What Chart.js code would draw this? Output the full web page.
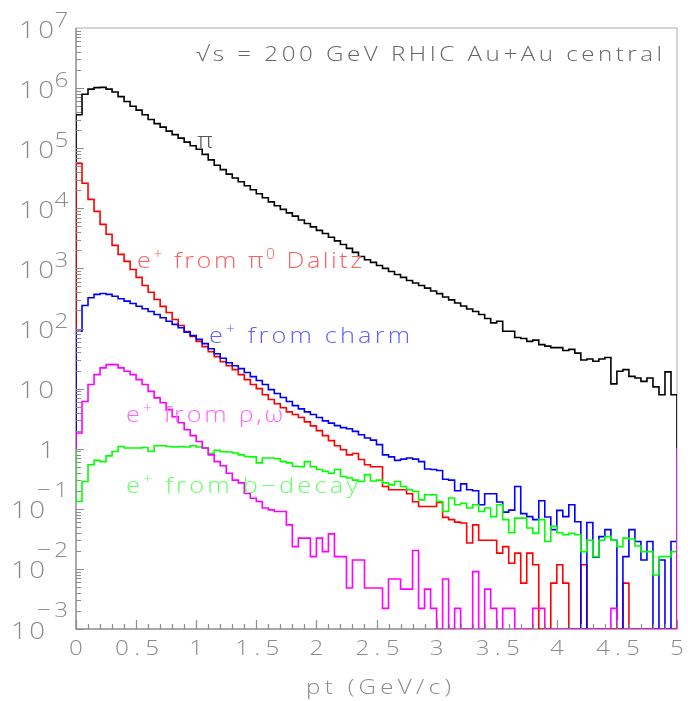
<!DOCTYPE html>
<html>
<head>
<meta charset="utf-8">
<script src="https://cdn.jsdelivr.net/npm/chart.js@4.4.1/dist/chart.umd.min.js"></script>
<style>
  html, body { margin: 0; padding: 0; background: #fff; }
  #c { display: block; }
</style>
</head>
<body>
<canvas id="c" width="688" height="701"></canvas>
<script>
// pt binning: 100 bins of 0.05 GeV/c from 0 to 5
var ptMin = 0, ptMax = 5, binW = 0.05;
var yMin = 1e-3, yMax = 1e7;
var xTicks = [0, 0.5, 1, 1.5, 2, 2.5, 3, 3.5, 4, 4.5, 5];
var yDecades = [-3, -2, -1, 0, 1, 2, 3, 4, 5, 6, 7];

// counts per bin (0 = empty bin)
var pion = [3.6e5, 7.9e5, 9.6e5, 1.02e6, 1.03e6, 9.6e5, 8.6e5, 7.2e5, 6.0e5, 5.0e5,
  4.3e5, 3.6e5, 3.0e5, 2.56e5, 2.24e5, 1.92e5, 1.68e5, 1.47e5, 1.26e5, 1.10e5,
  9.6e4, 7.9e4, 6.4e4, 5.2e4, 4.4e4, 3.7e4, 3.2e4, 2.77e4, 2.37e4, 2.03e4,
  1.75e4, 1.50e4, 1.28e4, 1.10e4, 9.6e3, 8.4e3, 7.4e3, 6.4e3, 5.6e3, 4.9e3,
  4.3e3, 3.8e3, 3.3e3, 2.87e3, 2.5e3, 2.15e3, 1.85e3, 1.58e3, 1.39e3, 1.26e3,
  1120, 1000, 890, 790, 710, 630, 570, 520, 470, 420,
  380, 335, 300, 266, 237, 211, 192, 171, 147, 124,
  132, 90, 90, 71, 68, 61, 64, 54, 51, 48,
  48, 43, 45, 39, 30, 31, 28.5, 31, 33, 12,
  19.4, 20.7, 16, 15, 13.2, 15, 10.7, 7.9, 19, 7.9];

var dalitz = [56000, 26100, 14100, 8900, 5400, 3690, 2420, 1710, 1310, 960,
  710, 520, 400, 304, 233, 185, 141, 112, 89, 74,
  61, 50, 41, 34, 28, 24, 20.7, 17.1, 14.1, 11.7,
  10.0, 7.9, 6.6, 5.6, 4.8, 4.1, 3.7, 3.3, 2.8, 2.4,
  2.0, 1.65, 1.36, 1.12, 0.96, 0.79, 0.83, 0.66, 0.54, 0.50,
  0.50, 0.235, 0.207, 0.207, 0.207, 0.178, 0.131, 0.109, 0.109, 0.109,
  0.128, 0.072, 0.066, 0.060, 0.058, 0.027, 0.054, 0.030, 0.030, 0.030,
  0.0183, 0.0235, 0.0124, 0.0183, 0.0058, 0.0183, 0.0117, 0, 0, 0.0058,
  0.0117, 0.0058, 0, 0, 0.0117, 0, 0, 0, 0, 0,
  0, 0.0058, 0, 0, 0, 0, 0, 0, 0, 0];

var charm = [90, 242, 325, 369, 383, 369, 345, 313, 285, 261,
  235, 213, 192, 171, 151, 132, 117, 103, 87, 76,
  66, 56, 46, 38, 32, 27, 24, 21.5, 18.5, 15.8,
  13.6, 11.7, 9.6, 8.3, 7.1, 6.1, 5.2, 4.6, 4.1, 3.7,
  3.3, 2.9, 2.66, 2.42, 2.24, 2.15, 1.94, 1.71, 1.51, 1.39,
  1.17, 0.79, 0.73, 0.64, 0.67, 0.70, 0.67, 0.61, 0.46, 0.45,
  0.435, 0.31, 0.30, 0.20, 0.26, 0.207, 0.20, 0.117, 0.178, 0.178,
  0.13, 0.088, 0.095, 0.235, 0.083, 0.074, 0.066, 0.136, 0.073, 0.045,
  0.094, 0.074, 0.117, 0.061, 0, 0.059, 0.0157, 0.0345, 0.045, 0.030,
  0, 0.016, 0.045, 0.0285, 0.0141, 0.0285, 0, 0.0141, 0, 0.0285];

var rhoOmega = [1.83, 6.1, 11.7, 17.1, 22.1, 25.1, 25.1, 22.1, 19.4, 17.1,
  14.1, 11.7, 9.0, 7.0, 5.8, 4.5, 3.4, 2.7, 2.07, 1.65,
  1.32, 1.03, 0.79, 0.61, 0.52, 0.39, 0.30, 0.27, 0.18, 0.15,
  0.132, 0.103, 0.096, 0.090, 0.090, 0.054, 0.0235, 0.0325, 0.0325, 0.016,
  0.0325, 0.0194, 0.0383, 0.016, 0.016, 0.0048, 0.0141, 0.0141, 0.0048, 0.0048,
  0.0048, 0.0022, 0.0068, 0.0068, 0.0046, 0.0046, 0.0202, 0.0022, 0.0046, 0.0022,
  0, 0.0068, 0, 0.0022, 0, 0, 0.009, 0, 0.0046, 0.0022,
  0, 0.0022, 0.0022, 0, 0, 0, 0.0022, 0.0022, 0, 0,
  0, 0, 0, 0, 0, 0, 0, 0, 0, 0.0022,
  0, 0, 0, 0, 0, 0, 0, 0, 0, 0];

var bDecay = [0.132, 0.285, 0.54, 0.64, 0.61, 0.76, 0.90, 1.09, 1.03, 1.03,
  1.03, 1.05, 0.90, 1.12, 1.12, 1.09, 1.07, 1.09, 1.07, 1.12,
  1.07, 1.03, 0.83, 0.94, 0.89, 0.88, 0.85, 0.79, 0.74, 0.73,
  0.58, 0.70, 0.70, 0.68, 0.61, 0.58, 0.51, 0.50, 0.61, 0.50,
  0.45, 0.42, 0.39, 0.45, 0.345, 0.325, 0.30, 0.285, 0.37, 0.29,
  0.30, 0.27, 0.25, 0.285, 0.235, 0.207, 0.194, 0.141, 0.171, 0.171,
  0.132, 0.090, 0.151, 0.117, 0.124, 0.103, 0.117, 0.090, 0.103, 0.074,
  0.117, 0.066, 0.040, 0.070, 0.070, 0.048, 0.039, 0.066, 0.0285, 0.051,
  0.040, 0.037, 0.039, 0.037, 0.0194, 0.030, 0.016, 0.030, 0.0345, 0.030,
  0.0235, 0.0325, 0.0315, 0.024, 0.0194, 0.0194, 0.0079, 0.016, 0.016, 0.0194];

var FONT = "'Open Sans', 'DejaVu Sans', sans-serif";
var STRETCH = 1.15; // root's vector font is wider than open sans

// histogram outline: starts/ends at baseline 1 like ROOT log plots, empty bins sit on the frame bottom
function histPoints(vals) {
  var pts = [{ x: ptMin, y: 1 }];
  for (var i = 0; i < vals.length; i++) {
    pts.push({ x: ptMin + i * binW, y: vals[i] > 0 ? vals[i] : yMin });
  }
  pts.push({ x: ptMax, y: 1 });
  return pts;
}

function histSet(vals, color, order) {
  return {
    data: histPoints(vals),
    borderColor: color,
    borderWidth: 1.6,
    stepped: 'before', // in chart.js this one goes horizontal first
    pointRadius: 0,
    fill: false,
    order: order
  };
}

// draw text char by char, spread so it covers x0..x1
function layoutChars(ctx, parts, size) {
  var out = [];
  parts.forEach(function (p) {
    var s = p[1] ? size * 0.62 : size;
    var f = '300 ' + s + 'px ' + FONT;
    ctx.font = f;
    for (var ch of p[0]) {
      out.push({ ch: ch, font: f, w: ctx.measureText(ch).width * STRETCH, dy: p[1] ? -size * 0.42 : 0 });
    }
  });
  return out;
}

function drawSpan(ctx, parts, x0, x1, base, size, color) {
  var cs = layoutChars(ctx, parts, size);
  var total = 0;
  cs.forEach(function (c) { total += c.w; });
  var gap = cs.length > 1 ? (x1 - x0 - total) / (cs.length - 1) : 0;
  var x = cs.length > 1 ? x0 : (x0 + x1 - total) / 2;
  ctx.fillStyle = color;
  ctx.textAlign = 'left';
  ctx.textBaseline = 'alphabetic';
  cs.forEach(function (c) {
    ctx.save();
    ctx.font = c.font;
    ctx.translate(x, base + c.dy);
    ctx.scale(STRETCH, 1);
    ctx.fillText(c.ch, 0, 0);
    ctx.restore();
    x += c.w + gap;
  });
}

var rootAxes = {
  id: 'rootAxes',
  beforeDatasetsDraw: function (chart) {
    var ctx = chart.ctx, a = chart.chartArea;
    ctx.save();
    ctx.lineWidth = 1.5;
    ctx.strokeStyle = '#c8c8c8';
    ctx.beginPath();
    ctx.moveTo(a.left, a.top); ctx.lineTo(a.right, a.top); ctx.lineTo(a.right, a.bottom);
    ctx.stroke();
    ctx.strokeStyle = '#8c8c8c';
    ctx.beginPath();
    ctx.moveTo(a.left, a.top); ctx.lineTo(a.left, a.bottom); ctx.lineTo(a.right, a.bottom);
    ctx.stroke();
    ctx.restore();
  },
  afterDatasetsDraw: function (chart) {
    var ctx = chart.ctx, a = chart.chartArea;
    var xs = chart.scales.x, ys = chart.scales.y;
    ctx.save();
    ctx.strokeStyle = '#8c8c8c';
    ctx.lineWidth = 1.2;
    ctx.beginPath();
    // y ticks (inside, on the left)
    for (var d = -3; d <= 6; d++) {
      for (var m = 1; m <= 9; m++) {
        var y = Math.round(ys.getPixelForValue(m * Math.pow(10, d))) + 0.5;
        var len = m === 1 ? 8 : 5;
        ctx.moveTo(a.left, y); ctx.lineTo(a.left + len, y);
      }
    }
    // x ticks (inside, on the bottom)
    for (var k = 0; k <= 50; k++) {
      var x = Math.round(xs.getPixelForValue(k * 0.1)) + 0.5;
      var l = k % 5 === 0 ? 9 : 5;
      ctx.moveTo(x, a.bottom); ctx.lineTo(x, a.bottom - l);
    }
    ctx.stroke();
    ctx.restore();
  },
  afterDraw: function (chart) {
    var ctx = chart.ctx;
    var xs = chart.scales.x, ys = chart.scales.y;
    var grey = '#8a8a8a';
    ctx.save();
    yDecades.forEach(function (d) {
      var y = ys.getPixelForValue(Math.pow(10, d));
      if (d >= 2) {
        drawSpan(ctx, [['10', 0]], 19, 54, y + 9.5, 24, grey);
        drawSpan(ctx, [[String(d), 0]], 55, 68, y - 1, 21, grey);
      } else if (d === 1) {
        drawSpan(ctx, [['10', 0]], 19, 54, y + 9.5, 24, grey);
      } else if (d === 0) {
        drawSpan(ctx, [['1', 0]], 40, 54, y + 9.5, 24, grey);
      } else {
        drawSpan(ctx, [['10', 0]], 11, 45, y + 9.5, 24, grey);
        drawSpan(ctx, [['\u2212' + (-d), 0]], 37, 68, y - 12, 21, grey);
      }
    });
    xTicks.forEach(function (v) {
      var cx = xs.getPixelForValue(v);
      var s = String(v);
      if (s.length === 1) drawSpan(ctx, [[s, 0]], cx, cx, 655, 21, grey);
      else drawSpan(ctx, [[s, 0]], cx - 21, cx + 23, 655, 21, grey);
    });
    drawSpan(ctx, [['pt (GeV/c)', 0]], 306, 451, 694, 21, grey);

    drawSpan(ctx, [['\u221As = 200 GeV RHIC Au+Au central', 0]], 196, 662, 61, 21, '#666');
    drawSpan(ctx, [['\u03C0', 0]], 205, 205, 148, 22, '#555');
    drawSpan(ctx, [['e', 0], ['+', 1], [' from \u03C0', 0], ['0', 1], [' Dalitz', 0]], 137, 362, 268, 22, '#ff5c5c');
    drawSpan(ctx, [['e', 0], ['+', 1], [' from charm', 0]], 209, 410, 343, 22, '#6060ff');
    drawSpan(ctx, [['e', 0], ['+', 1], [' from \u03C1,\u03C9', 0]], 126, 283, 422, 22, '#ff66ff');
    drawSpan(ctx, [['e', 0], ['+', 1], [' from b\u2212decay', 0]], 126, 358, 493, 22, '#66ff66');
    ctx.restore();
  }
};

var chart = new Chart(document.getElementById('c').getContext('2d'), {
  type: 'line',
  data: {
    datasets: [
      histSet(pion, '#000000', 5),
      histSet(dalitz, '#ff0000', 4),
      histSet(charm, '#0000ff', 3),
      histSet(bDecay, '#00ff00', 2),
      histSet(rhoOmega, '#ff00ff', 1)
    ]
  },
  options: {
    responsive: false,
    animation: false,
    devicePixelRatio: 1,
    layout: { padding: { left: 76, top: 28, right: 11, bottom: 72 } },
    scales: {
      x: { type: 'linear', min: ptMin, max: ptMax, display: false },
      y: { type: 'logarithmic', min: yMin, max: yMax, display: false }
    },
    plugins: { legend: { display: false }, tooltip: { enabled: false } }
  },
  plugins: [rootAxes]
});
</script>
</body>
</html>
